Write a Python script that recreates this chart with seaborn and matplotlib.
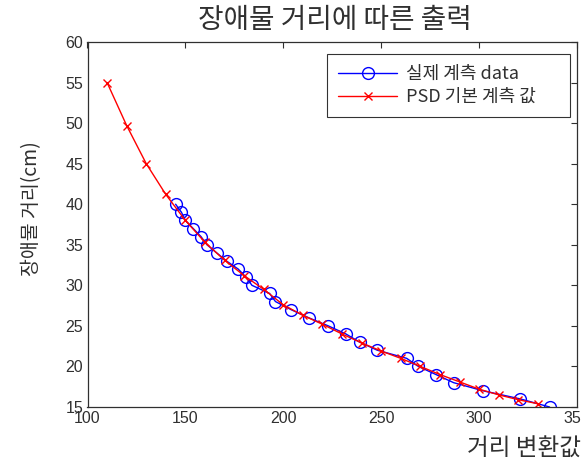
import matplotlib
matplotlib.use("Agg")
import matplotlib.pyplot as plt
import seaborn as sns
import pandas as pd

# Measured data (blue circles)
meas_x = [145, 148, 150, 154, 158, 161, 166, 171, 177, 181, 184, 193, 196,
          204, 213, 223, 232, 239, 248, 263, 269, 278, 287, 302, 321, 336]
meas_y = [40, 39, 38, 37, 36, 35, 34, 33, 32, 31, 30, 29, 28,
          27, 26, 25, 24, 23, 22, 21, 20, 19, 18, 17, 16, 15]

# PSD reference curve (red x)
psd_x = [110, 120, 130, 140, 150, 160, 170, 180, 190, 200, 210, 220,
         230, 240, 250, 260, 270, 280, 290, 300, 310, 320, 330]
psd_y = [55.0, 49.7, 45.0, 41.2, 38.0, 35.3, 33.1, 31.2, 29.5, 27.6, 26.3, 25.2,
         24.0, 22.9, 21.9, 21.0, 20.0, 19.0, 18.1, 17.2, 16.5, 15.9, 15.4]

title = "장애물 거리에 따른 출력"
xlabel = "거리 변환값"
ylabel = "장애물 거리(cm)"
label_meas = "실제 계측 data"
label_psd = "PSD 기본 계측 값"
xticks = [100, 150, 200, 250, 300, 350]
yticks = [15, 20, 25, 30, 35, 40, 45, 50, 55, 60]

sns.set_style("white")
plt.rcParams['font.family'] = ['Liberation Sans', 'Noto Sans CJK KR', 'DejaVu Sans']
kfont = ['Noto Sans CJK KR', 'DejaVu Sans']
txtcol = "#303030"

W, H = 581, 472
fig = plt.figure(figsize=(W / 100, H / 100), dpi=100)
ax_l, ax_r, ax_t, ax_b = 87.5, 577, 42, 407
ax = fig.add_axes([ax_l / W, 1 - ax_b / H, (ax_r - ax_l) / W, (ax_b - ax_t) / H])

df_m = pd.DataFrame({"x": meas_x, "y": meas_y})
df_p = pd.DataFrame({"x": psd_x, "y": psd_y})

sns.lineplot(data=df_m, x="x", y="y", ax=ax, sort=False, estimator=None,
             color="#0000FF", linewidth=1.0, marker="o", markersize=8.5,
             markerfacecolor="none", markeredgecolor="#0000FF", markeredgewidth=1.0,
             label=label_meas)
sns.lineplot(data=df_p, x="x", y="y", ax=ax, sort=False, estimator=None,
             color="#FF0000", linewidth=1.0, marker="x", markersize=5.5,
             markeredgecolor="#FF0000", markeredgewidth=1.0,
             label=label_psd)

ax.set_xlim(100, 350)
ax.set_ylim(15, 60)
ax.set_xticks(xticks)
ax.set_yticks(yticks)
ax.tick_params(direction="in", top=True, right=True, length=4, width=0.8,
               labelsize=11.5, colors=txtcol, pad=3)
for s in ax.spines.values():
    s.set_color("#303030")
    s.set_linewidth(0.9)
    s.set_visible(True)

ax.set_xlabel("")
ax.set_ylabel(ylabel, family=kfont, fontsize=14, color=txtcol)
ax.yaxis.set_label_coords((42 - ax_l) / (ax_r - ax_l), (ax_b - 209) / (ax_b - ax_t))
fig.text(467 / W, 1 - 449 / H, xlabel, family=kfont, fontsize=17,
         color=txtcol, ha="left", va="center")
fig.text(335 / W, 1 - 20 / H, title, family=kfont, fontsize=20,
         color=txtcol, ha="center", va="center")

lx0 = (327 - ax_l) / (ax_r - ax_l)
lx1 = (570 - ax_l) / (ax_r - ax_l)
ly1 = (ax_b - 54) / (ax_b - ax_t)
ly0 = (ax_b - 118) / (ax_b - ax_t)
leg = ax.legend(loc="upper left", bbox_to_anchor=(lx0, ly0, lx1 - lx0, ly1 - ly0),
                mode="expand", borderaxespad=0, frameon=True, fancybox=False,
                handlelength=3.3, handletextpad=0.45, borderpad=0.6,
                labelspacing=0.3, prop={'family': kfont, 'size': 13})
leg.get_frame().set_edgecolor("black")
leg.get_frame().set_linewidth(0.8)
for t in leg.get_texts():
    t.set_color(txtcol)

fig.savefig("out.png", dpi=100)
